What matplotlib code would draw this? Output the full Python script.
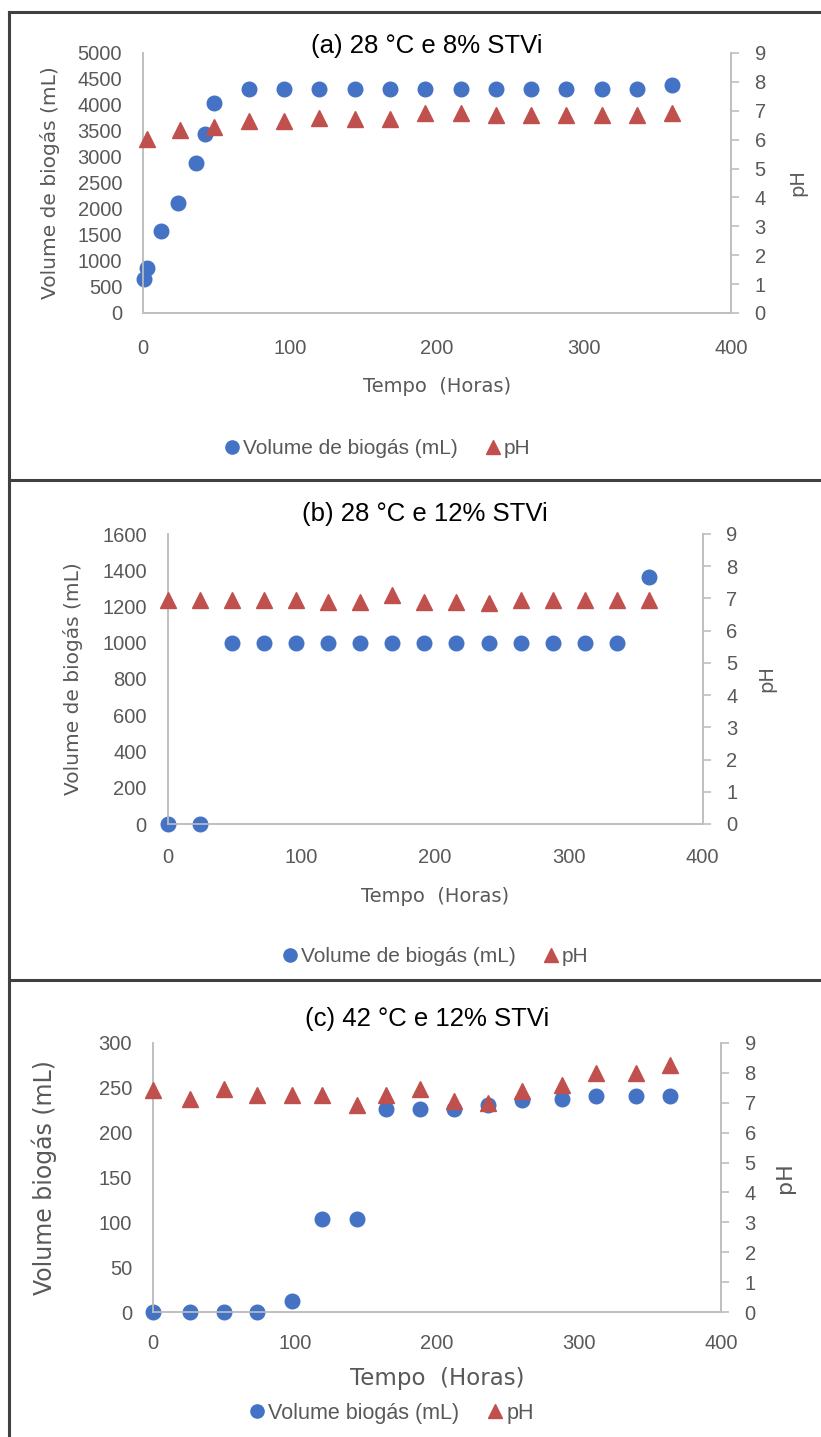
import matplotlib
matplotlib.use("Agg")
import matplotlib.pyplot as plt
from matplotlib.lines import Line2D

# ---------------- data ----------------
# Panel (a) 28 °C e 8% STVi
t_a_vol = [1, 3, 12, 24, 36, 42, 48, 72, 96, 120, 144, 168, 192, 216, 240, 264, 288, 312, 336, 360]
vol_a = [660, 870, 1580, 2110, 2880, 3450, 4030, 4300, 4300, 4300, 4300, 4300, 4300, 4300, 4300,
         4300, 4300, 4300, 4300, 4380]
t_a_ph = [3, 25, 48, 72, 96, 120, 144, 168, 192, 216, 240, 264, 288, 312, 336, 360]
ph_a = [6.02, 6.35, 6.45, 6.65, 6.65, 6.76, 6.72, 6.72, 6.92, 6.93, 6.84, 6.86, 6.84, 6.84, 6.84, 6.92]

# Panel (b) 28 °C e 12% STVi
t_b = [0, 24, 48, 72, 96, 120, 144, 168, 192, 216, 240, 264, 288, 312, 336, 360]
vol_b = [0, 0, 1000, 1000, 1000, 1000, 1000, 1000, 1000, 1000, 1000, 1000, 1000, 1000, 1000, 1365]
ph_b = [6.95, 6.95, 6.95, 6.95, 6.95, 6.88, 6.88, 7.12, 6.88, 6.88, 6.86, 6.94, 6.95, 6.95, 6.95, 6.95]

# Panel (c) 42 °C e 12% STVi
t_c = [0, 26, 50, 73, 98, 119, 144, 164, 188, 212, 236, 260, 288, 312, 340, 364]
vol_c = [0, 0, 0, 0, 12, 104, 104, 226, 226, 226, 231, 236, 238, 241, 241, 241]
ph_c = [7.44, 7.14, 7.46, 7.25, 7.25, 7.25, 6.92, 7.25, 7.45, 7.06, 6.98, 7.4, 7.6, 8.0, 7.98, 8.26]

titles = ["(a) 28 °C e 8% STVi", "(b) 28 °C e 12% STVi", "(c) 42 °C e 12% STVi"]
ylabels = ["Volume de biogás (mL)", "Volume de biogás (mL)", "Volume biogás (mL)"]
legend_vol = ["Volume de biogás (mL)", "Volume de biogás (mL)", "Volume biogás (mL)"]
xlabel = "Tempo  (Horas)"
y_limits = [(0, 5000, 500), (0, 1600, 200), (0, 300, 50)]

# ---------------- style ----------------
W, H = 821, 1437
BLUE = "#4472C4"
RED = "#C0504D"
GRAY = "#595959"
AXC = "#BFBFBF"
NARROW = ["Liberation Sans", "DejaVu Sans"]
WIDE = ["DejaVu Sans"]

fig = plt.figure(figsize=(W / 100, H / 100), dpi=100)


def fx(px):
    return px / W


def fy(py):
    return 1 - py / H


# axes boxes in pixels: left, top, right, bottom
boxes = [(143, 53, 731, 313), (167.5, 534, 702.6, 824), (153, 1043, 721, 1312)]
title_y = [46, 514, 1019]
xlab_y = [387, 897, 1378]
leg_y = [449, 957, 1413]
leg_x = [376, 434, 390]
ylab_x = [50, 73, 44]
ph_x = [798, 767, 785]
ylab_sizes = [14.5, 14.5, 17]
ph_sizes = [14, 14, 16]
xlab_sizes = [14, 14, 16.5]
xpads = [19, 17, 16]
leg_sizes = [15, 15, 15.5]

series = [
    (t_a_vol, vol_a, t_a_ph, ph_a),
    (t_b, vol_b, t_b, ph_b),
    (t_c, vol_c, t_c, ph_c),
]

for i in range(3):
    l, t, r, b = boxes[i]
    ax = fig.add_axes([fx(l), fy(b), fx(r - l), (b - t) / H])
    ax2 = ax.twinx()
    tv, vv, tp, pp = series[i]
    ymin, ymax, ystep = y_limits[i]
    ax.set_xlim(0, 400)
    ax.set_ylim(ymin, ymax)
    ax2.set_ylim(0, 9)
    ax.set_xticks(range(0, 401, 100))
    ax.set_yticks(range(ymin, ymax + 1, ystep))
    ax2.set_yticks(range(0, 10))

    ax.plot(tv, vv, linestyle="none", marker="o", markersize=10.5, color=BLUE,
            clip_on=False, zorder=3)
    ax2.plot(tp, pp, linestyle="none", marker="^", markersize=11, color=RED,
             clip_on=False, zorder=3)

    for a in (ax, ax2):
        a.spines["top"].set_visible(False)
        for s in ("left", "right", "bottom"):
            a.spines[s].set_color(AXC)
            a.spines[s].set_linewidth(1.2)
        a.patch.set_visible(False)
    ax.tick_params(axis="y", length=0, labelsize=14.5, labelcolor=GRAY, pad=15)
    ax.tick_params(axis="x", length=0, labelsize=14.5, labelcolor=GRAY, pad=xpads[i])
    ax2.tick_params(axis="y", length=6, width=1.2, color=AXC, labelsize=14.5,
                    labelcolor=GRAY, pad=11, direction="out")
    for lab in ax.get_xticklabels() + ax.get_yticklabels() + ax2.get_yticklabels():
        lab.set_fontfamily(NARROW)

    fig.text(fx((l + r) / 2 - 10), fy(title_y[i]), titles[i], ha="center", va="center",
             fontsize=18.5, family=NARROW, color="black")
    fig.text(fx(ylab_x[i]), fy((t + b) / 2), ylabels[i], rotation=90, ha="center",
             va="center", fontsize=ylab_sizes[i], family=WIDE, color=GRAY)
    fig.text(fx(ph_x[i]), fy((t + b) / 2), "pH", rotation=90, ha="center",
             va="center", fontsize=ph_sizes[i], family=WIDE, color=GRAY)
    fig.text(fx((l + r) / 2), fy(xlab_y[i]), xlabel, ha="center", va="center",
             fontsize=xlab_sizes[i], family=WIDE, color=GRAY)

    handles = [Line2D([], [], linestyle="none", marker="o", markersize=9.5, color=BLUE),
               Line2D([], [], linestyle="none", marker="^", markersize=9.5, color=RED)]
    fig.legend(handles, [legend_vol[i], "pH"], loc="center",
               bbox_to_anchor=(fx(leg_x[i]), fy(leg_y[i])), ncol=2, frameon=False,
               handletextpad=0.0, columnspacing=1.2, handlelength=1.0,
               prop={"family": NARROW, "size": leg_sizes[i]}, labelcolor=GRAY)

# panel frame lines
frame_kw = dict(color="#404040", linewidth=2.2, transform=fig.transFigure)
fig.add_artist(Line2D([fx(9), 1], [fy(12), fy(12)], **frame_kw))
fig.add_artist(Line2D([fx(9), fx(9)], [fy(12), 0], **frame_kw))
fig.add_artist(Line2D([fx(9), 1], [fy(480), fy(480)], **frame_kw))
fig.add_artist(Line2D([fx(9), 1], [fy(980), fy(980)], **frame_kw))

fig.savefig("out.png", dpi=100)
